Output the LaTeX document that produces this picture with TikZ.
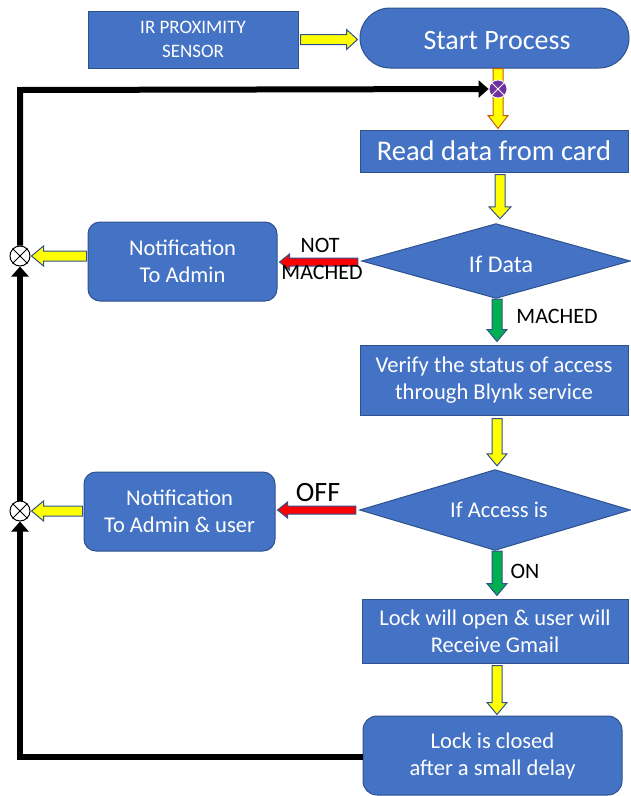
\documentclass[tikz,border=0pt]{standalone}
\usepackage{fontspec}
\setmainfont{Carlito}
\usetikzlibrary{calc,arrows.meta,backgrounds}
\definecolor{boxblue}{HTML}{4472C4}
\definecolor{boxedge}{HTML}{2F528F}
\definecolor{arryel}{HTML}{FFFF00}
\definecolor{arrred}{HTML}{FF0000}
\definecolor{arrgrn}{HTML}{00B050}
\definecolor{arrorg}{HTML}{C55A11}
\definecolor{jpurple}{HTML}{7030A0}
% vertical block arrow pointing down: #1 start, #2 tip, #3 fill, #4 edge, #5 half shaft, #6 half head, #7 head length
\newcommand{\dblock}[7]{%
  \draw[fill=#3,draw=#4,line width=1pt] let \p1=#1, \p2=#2 in
    (\x1-#5,\y1) -- (\x1+#5,\y1) -- (\x1+#5,\y2+#7) -- (\x1+#6,\y2+#7) -- (\x1,\y2)
    -- (\x1-#6,\y2+#7) -- (\x1-#5,\y2+#7) -- cycle;}
% horizontal block arrow pointing left
\newcommand{\lblock}[7]{%
  \draw[fill=#3,draw=#4,line width=1pt] let \p1=#1, \p2=#2 in
    (\x1,\y1+#5) -- (\x2+#7,\y1+#5) -- (\x2+#7,\y1+#6) -- (\x2,\y1)
    -- (\x2+#7,\y1-#6) -- (\x2+#7,\y1-#5) -- (\x1,\y1-#5) -- cycle;}
% horizontal block arrow pointing right
\newcommand{\rblock}[7]{%
  \draw[fill=#3,draw=#4,line width=1pt] let \p1=#1, \p2=#2 in
    (\x1,\y1+#5) -- (\x2-#7,\y1+#5) -- (\x2-#7,\y1+#6) -- (\x2,\y1)
    -- (\x2-#7,\y1-#6) -- (\x2-#7,\y1-#5) -- (\x1,\y1-#5) -- cycle;}
\newcommand{\fsz}[2]{\fontsize{#1pt}{#2pt}\selectfont}
\newcommand{\lowtxt}[2]{\raisebox{-#1}[\height][\depth]{#2}}
\tikzset{
  box/.style={draw=boxedge,fill=boxblue,line width=1pt,text=white,align=center,inner sep=0pt},
  rbox/.style={box,rounded corners=12pt},
  dia/.style={rectangle,text=white,align=center,inner sep=0pt},
  diafill/.style={draw=boxedge,fill=boxblue,line width=1pt},
  lbl/.style={text=black,inner sep=0pt,align=center},
  junc/.style={circle,draw=black,fill=white,line width=1pt,minimum size=20pt,inner sep=0pt},
  pjunc/.style={circle,draw=white,fill=jpurple,line width=0.8pt,minimum size=18pt,inner sep=0pt},
  loopline/.style={line width=6pt,draw=black},
  looparrow/.style={loopline,-{Triangle[length=10pt,width=17pt]}}
}
\begin{document}
\begin{tikzpicture}[x=1pt,y=-1pt]
\useasboundingbox (0,0) rectangle (630,796);
% nodes
\node[box,minimum width=210pt,minimum height=57pt,font=\fsz{19}{24}] (ir) at (193,39.5) {IR PROXIMITY\\SENSOR};
\node[box,rounded corners=30pt,minimum width=269pt,minimum height=60pt,font=\fsz{28}{32}] (start) at (494.5,38) {\hspace*{5pt}\lowtxt{3pt}{Start Process}};
\node[box,minimum width=268pt,minimum height=42pt,font=\fsz{28.5}{30}] (read) at (494,151) {Read data from card};
\node[dia,minimum width=268pt,minimum height=74pt,font=\fsz{24}{28}] (ifdata) at (496,261) {\hspace*{10pt}\lowtxt{3pt}{If Data}};
\node[rbox,minimum width=189pt,minimum height=79pt,font=\fsz{22.5}{27}] (notif1) at (182.5,261.5) {Notification\\To Admin};
\node[box,minimum width=268pt,minimum height=70pt,font=\fsz{22.6}{27}] (verify) at (494,380) {Verify the status of access\\through Blynk service};
\node[dia,minimum width=270pt,minimum height=80pt,font=\fsz{22.5}{27}] (ifacc) at (495,510) {\hspace*{8pt}If Access is};
\node[rbox,minimum width=191pt,minimum height=79pt,font=\fsz{22.5}{27}] (notif2) at (179.5,511.5) {Notification\\To Admin \& user};
\node[box,minimum width=266pt,minimum height=64pt,font=\fsz{22.5}{27}] (lockopen) at (495,631) {Lock will open \& user will\\Receive Gmail};
\node[box,rounded corners=14pt,minimum width=259pt,minimum height=79pt,font=\fsz{22.5}{27}] (lockc) at (492.5,755.5) {Lock is closed\\after a small delay};
\begin{pgfonlayer}{background}
\draw[diafill] (ifdata.west) -- (ifdata.north) -- (ifdata.east) -- (ifdata.south) -- cycle;
\draw[diafill] (ifacc.west) -- (ifacc.north) -- (ifacc.east) -- (ifacc.south) -- cycle;
\end{pgfonlayer}
% junctions
\node[junc] (j1) at (20,256) {};
\node[junc] (j2) at (20,511) {};
\draw[line width=1pt] (j1.45) -- (j1.225) (j1.135) -- (j1.315);
\draw[line width=1pt] (j2.45) -- (j2.225) (j2.135) -- (j2.315);
\coordinate (pjc) at (498,89);
% block arrows
\rblock{($(ir.east)+(2,0)$)}{($(start.west)+(-2,1)$)}{arryel}{boxedge}{5pt}{10pt}{11pt}
\dblock{($(start.south -| pjc)$)}{($(read.north -| pjc)+(0,-1)$)}{arryel}{arrorg}{5pt}{10pt}{13pt}
\node[pjunc] (pj) at (pjc) {};
\draw[white,line width=1pt] (pj.45) -- (pj.225) (pj.135) -- (pj.315);
\dblock{($(read.south)+(6,2)$)}{($(ifdata.north)+(4,-5)$)}{arryel}{boxedge}{5pt}{11pt}{12pt}
\lblock{($(ifdata.west)+(-4,1)$)}{($(notif1.east)+(2,1)$)}{arrred}{boxedge}{4pt}{8pt}{10pt}
\lblock{($(notif1.west |- j1)+(-1,0)$)}{($(j1.east)+(1,0)$)}{arryel}{boxedge}{5pt}{10pt}{12pt}
\dblock{($(ifdata.south)+(1,1)$)}{($(verify.north)+(0,-3)$)}{arrgrn}{boxedge}{5pt}{10pt}{12pt}
\dblock{($(verify.south)+(3,3)$)}{($(ifacc.north)+(0,-4)$)}{arryel}{boxedge}{5pt}{10pt}{12pt}
\lblock{($(ifacc.west)+(-4,0)$)}{($(notif2.east)+(2,0)$)}{arrred}{boxedge}{4pt}{8pt}{10pt}
\lblock{($(notif2.west |- j2)+(-1,0)$)}{($(j2.east)+(1,0)$)}{arryel}{boxedge}{5pt}{10pt}{12pt}
\dblock{($(ifacc.south)+(2,1)$)}{($(lockopen.north)+(0,-3)$)}{arrgrn}{boxedge}{5pt}{10pt}{12pt}
\dblock{($(lockopen.south)+(2,2)$)}{($(lockc.north)+(0,-1)$)}{arryel}{boxedge}{5pt}{10pt}{12pt}
% loop lines
\coordinate (cbl) at (20,757);
\coordinate (ctl) at (20,90);
\draw[looparrow] (lockc.west |- cbl) -- (cbl) -- (j2.south);
\draw[looparrow] (j2.north) -- (j1.south);
\draw[looparrow] (j1.north) -- (ctl) -- (pj.west);
% labels
\node[lbl,font=\fsz{22}{26}] (tnot) at (320,245) {NOT};
\node[lbl,font=\fsz{22}{26}] (tmach1) at (322,272) {MACHED};
\node[lbl,font=\fsz{22}{26}] (tmach2) at (557,316) {MACHED};
\node[lbl,font=\fsz{28}{30}] (toff) at (318,493) {OFF};
\node[lbl,font=\fsz{22}{26}] (ton) at (525,571) {ON};
\end{tikzpicture}
\end{document}
